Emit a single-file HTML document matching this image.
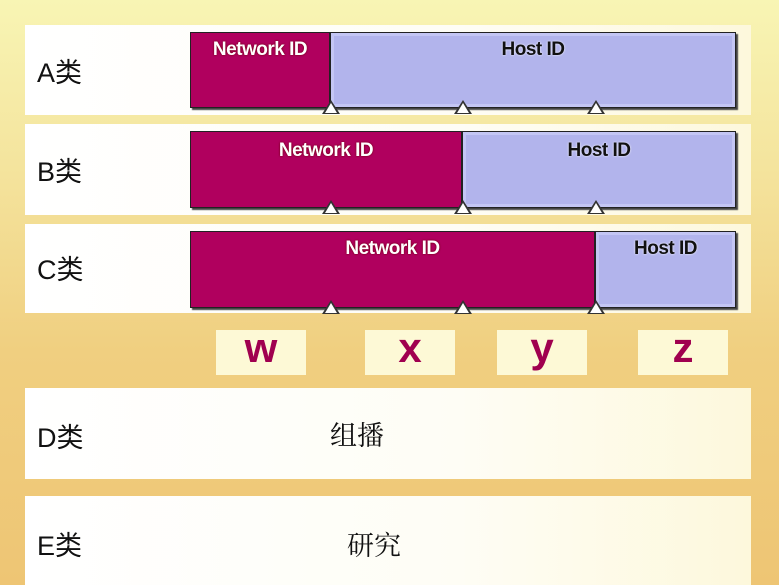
<!DOCTYPE html>
<html style="width:779px;height:585px;overflow:hidden;background:#eec574"><head><meta charset="utf-8"><style>
body{margin:0;width:779px;height:585px;overflow:hidden;position:relative;
background:linear-gradient(180deg,#f8f5b4 0%,#f4e39c 30%,#f0cf80 60%,#eec574 100%);
font-family:"Liberation Sans","Noto Sans CJK SC",sans-serif;}
.p{position:absolute;left:25px;width:726px;background:linear-gradient(90deg,#ffffff 0%,#fefdf5 60%,#fdf8dc 100%);}
.lbl{position:absolute;left:12px;font-size:27px;color:#111;}
.bar{position:absolute;left:190px;width:544px;border:1px solid #222;box-shadow:2px 2px 1px #444;display:flex;}
.n{background:#b0005e;height:100%;position:relative;border-right:2px solid #222;}
.h{background:#b2b4ec;flex:1;height:100%;position:relative;box-shadow:inset 0 0 0 3px #c4c6f4;}
.t{position:absolute;top:5px;left:0;right:0;text-align:center;font-size:19px;font-weight:bold;letter-spacing:-0.5px}
.n .t{color:#fff;text-shadow:0 0 2px #600}
.h .t{color:#111;text-shadow:0 0 2px #fff}
.tri{position:absolute;width:0;height:0;border-left:9px solid transparent;border-right:9px solid transparent;border-bottom:14px solid #333;}
.tri:after{content:"";position:absolute;left:-6px;top:3px;border-left:6px solid transparent;border-right:6px solid transparent;border-bottom:10px solid #fff;}
.lb{position:absolute;top:330px;height:45px;width:90px;background:#fdf9d6;color:#a0004f;font-size:42px;font-weight:bold;text-align:center;line-height:36px;}
.cn{position:absolute;font-size:27px;color:#111;font-family:"Noto Serif CJK SC",serif;}
</style></head><body>
<div class="p" style="top:25px;height:90px"><div class="lbl" style="top:26px">A类</div></div>
<div class="p" style="top:124px;height:91px"><div class="lbl" style="top:26px">B类</div></div>
<div class="p" style="top:224px;height:89px"><div class="lbl" style="top:24px">C类</div></div>
<div class="p" style="top:388px;height:91px"><div class="lbl" style="top:28px">D类</div><div class="cn" style="left:305px;top:26px">组播</div></div>
<div class="p" style="top:496px;height:89px"><div class="lbl" style="top:28px">E类</div><div class="cn" style="left:322px;top:28px">研究</div></div>

<div class="bar" style="top:32px;height:74px"><div class="n" style="width:138px"><div class="t" style="top:6px">Network ID</div></div><div class="h"><div class="t" style="top:6px">Host ID</div></div></div>
<div class="bar" style="top:131px;height:75px"><div class="n" style="width:270px"><div class="t" style="top:8px">Network ID</div></div><div class="h"><div class="t" style="top:8px">Host ID</div></div></div>
<div class="bar" style="top:231px;height:75px"><div class="n" style="width:403px"><div class="t" style="top:6px">Network ID</div></div><div class="h"><div class="t" style="top:6px">Host ID</div></div></div>

<div class="tri" style="left:322px;top:100px"></div><div class="tri" style="left:454px;top:100px"></div><div class="tri" style="left:587px;top:100px"></div>
<div class="tri" style="left:322px;top:200px"></div><div class="tri" style="left:454px;top:200px"></div><div class="tri" style="left:587px;top:200px"></div>
<div class="tri" style="left:322px;top:300px"></div><div class="tri" style="left:454px;top:300px"></div><div class="tri" style="left:587px;top:300px"></div>

<div class="lb" style="left:216px">w</div>
<div class="lb" style="left:365px">x</div>
<div class="lb" style="left:497px">y</div>
<div class="lb" style="left:638px">z</div>
</body></html>
